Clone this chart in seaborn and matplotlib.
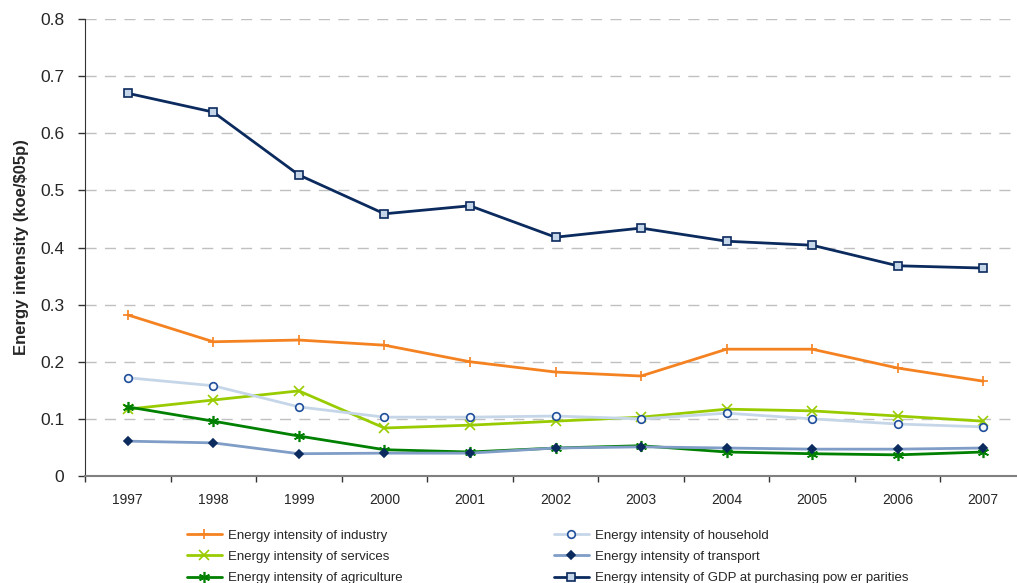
import pandas as pd
import seaborn as sns
import matplotlib.pyplot as plt
import numpy as np

# Data
years = ['1997', '1998', '1999', '2000', '2001', '2002', '2003', '2004', '2005', '2006', '2007']
industry = [0.282, 0.235, 0.238, 0.229, 0.200, 0.182, 0.175, 0.222, 0.222, 0.189, 0.166]
household = [0.172, 0.158, 0.121, 0.103, 0.103, 0.105, 0.100, 0.110, 0.100, 0.091, 0.086]
services = [0.117, 0.133, 0.149, 0.084, 0.089, 0.096, 0.103, 0.117, 0.114, 0.105, 0.096]
transport = [0.061, 0.058, 0.039, 0.040, 0.040, 0.049, 0.051, 0.049, 0.047, 0.047, 0.049]
agriculture = [0.121, 0.096, 0.070, 0.046, 0.042, 0.049, 0.053, 0.042, 0.039, 0.037, 0.042]
gdp_ppp = [0.670, 0.637, 0.527, 0.459, 0.473, 0.418, 0.434, 0.411, 0.404, 0.368, 0.364]

sns.set_style('white')
plt.rcParams['font.family'] = ['Liberation Sans', 'DejaVu Sans']

x = np.arange(len(years))

# label, values, line colour, marker, marker size, marker face, marker edge
series = [
    ('Energy intensity of industry', industry, '#F58220', '+', 7, '#F58220', '#F58220'),
    ('Energy intensity of services', services, '#99CC00', 'x', 7, '#99CC00', '#99CC00'),
    ('Energy intensity of agriculture', agriculture, '#008000', (6, 2, 0), 8, '#008000', '#008000'),
    ('Energy intensity of household', household, '#C6D6E9', 'o', 5.5, '#F4F7FB', '#1F4E9A'),
    ('Energy intensity of transport', transport, '#7F9DC6', 'D', 4, '#0B2A5E', '#0B2A5E'),
    ('Energy intensity of GDP at purchasing pow er parities', gdp_ppp, '#0B2A5E', 's', 5.5, '#C6D6E9', '#0B2A5E'),
]

fig = plt.figure(figsize=(10.17, 5.83), dpi=100)
ax = fig.add_axes([85 / 1017, 1 - 476 / 583, (1026 - 85) / 1017, (476 - 19) / 583])

for label, vals, color, marker, ms, mfc, mec in series:
    df = pd.DataFrame({'x': x, 'y': vals})
    sns.lineplot(data=df, x='x', y='y', ax=ax, color=color, linewidth=2,
                 marker=marker, markersize=ms, markerfacecolor=mfc,
                 markeredgecolor=mec, markeredgewidth=1.2, label=label)

ax.set_xlim(-0.5, len(years) - 0.5)
ax.set_ylim(0, 0.8)
ax.set_xticks(x)
ax.set_xticklabels(years, fontsize=10)
ax.set_xticks(np.arange(-0.5, len(years), 1), minor=True)
ax.tick_params(axis='x', which='major', length=0, pad=12)
ax.tick_params(axis='x', which='minor', length=4, width=1, color='#333333', direction='out', bottom=True)
ax.set_yticks(np.arange(0, 0.81, 0.1))
ax.set_yticklabels(['0'] + ['%.1f' % v for v in np.arange(0.1, 0.81, 0.1)], fontsize=12.5)
ax.tick_params(axis='y', length=5, width=1, color='#333333', direction='out', left=True, pad=10)
ax.yaxis.grid(True, linestyle=(0, (8, 6)), color='#C0C0C0', linewidth=1)
ax.set_axisbelow(True)

ax.spines['top'].set_visible(False)
ax.spines['right'].set_visible(False)
ax.spines['left'].set_color('#333333')
ax.spines['bottom'].set_color('#808080')
ax.spines['bottom'].set_linewidth(1.5)

ax.set_xlabel('')
ax.set_ylabel('Energy intensity (koe/\\$05p)', fontsize=12, fontweight='bold', labelpad=8)

handles, labels = ax.get_legend_handles_labels()
ax.legend_.remove()
fig.legend(handles, labels, ncol=2, loc='upper left', bbox_to_anchor=(180 / 1017, 1 - 523 / 583),
           frameon=False, fontsize=9.5, handlelength=2.65, columnspacing=11.5,
           labelspacing=0.68, handletextpad=0.45, borderpad=0)

fig.savefig('out.png', dpi=100)
